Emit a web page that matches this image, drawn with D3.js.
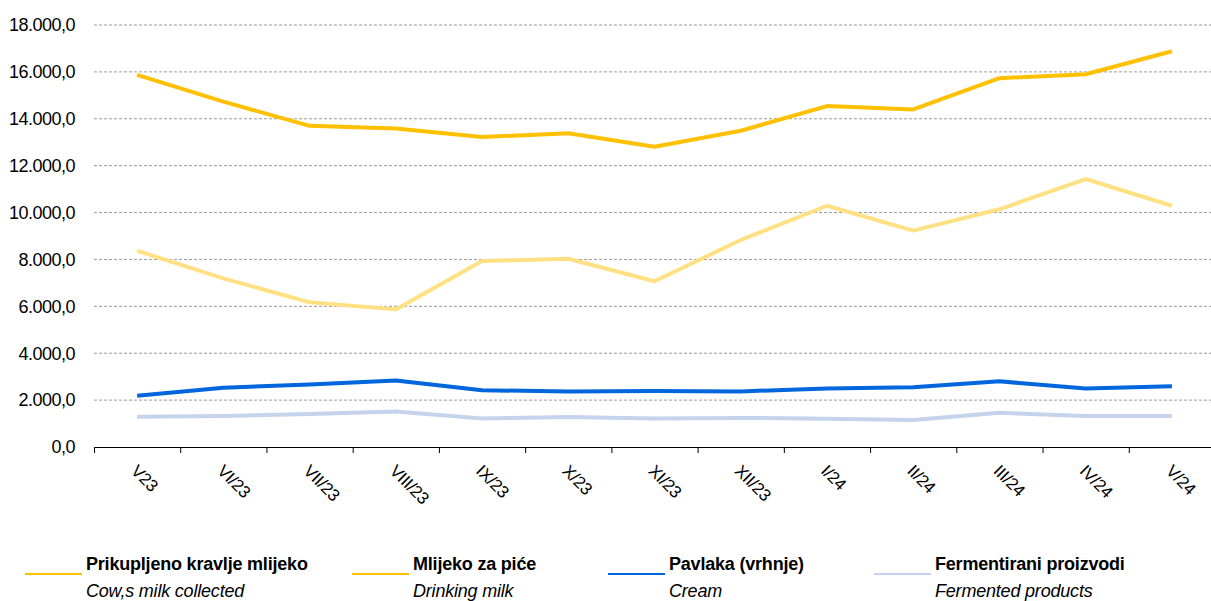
<!DOCTYPE html>
<html>
<head>
<meta charset="utf-8">
<script src="https://cdn.jsdelivr.net/npm/d3@7"></script>
<style>
    body { margin: 0; background: #fff; }
    svg text { font-family: "Liberation Sans", Arial, sans-serif; fill: #000; }
</style>
</head>
<body>
<div id="chart-container"></div>
<script>
var months = ["V/23", "VI/23", "VII/23", "VIII/23", "IX/23", "X/23", "XI/23", "XII/23", "I/24", "II/24", "III/24", "IV/24", "V/24"];
var monthLabels = ["V23", "VI/23", "VII/23", "VIII/23", "IX/23", "X/23", "XI/23", "XII/23", "I/24", "II/24", "III/24", "IV/24", "V/24"];

var cowMilk = [15870, 14730, 13700, 13590, 13220, 13380, 12810, 13490, 14540, 14400, 15730, 15900, 16880];
var drinkingMilk = [8370, 7190, 6170, 5870, 7930, 8030, 7070, 8830, 10290, 9230, 10140, 11430, 10290];
var cream = [2190, 2530, 2670, 2840, 2420, 2370, 2390, 2370, 2500, 2550, 2800, 2500, 2590];
var fermented = [1290, 1320, 1410, 1510, 1220, 1280, 1220, 1240, 1210, 1150, 1460, 1320, 1320];

var yTicks = [0, 2000, 4000, 6000, 8000, 10000, 12000, 14000, 16000, 18000];

var seriesNames = ["Prikupljeno kravlje mlijeko", "Mlijeko za piće", "Pavlaka (vrhnje)", "Fermentirani proizvodi"];
var seriesNamesEn = ["Cow,s milk collected", "Drinking milk", "Cream", "Fermented products"];

var settings = {
    w: 1211,
    h: 601,
    left: 94,
    right: 1215,
    top: 25,
    bottom: 447,
    lineColors: ["#FFC000", "#FFE184", "#0066DD", "#C5D3EC"],
    legendColors: ["#FFC000", "#FFC000", "#0066DD", "#C5D3EC"],
    legendX: [25, 352, 608, 874]
};

var seriesData = [cowMilk, drinkingMilk, cream, fermented];

var svg = d3.select("#chart-container").append("svg")
    .attr("width", settings.w)
    .attr("height", settings.h);

var xScale = d3.scaleBand()
    .domain(months)
    .range([settings.left, settings.right]);

var yScale = d3.scaleLinear()
    .domain([0, 18000])
    .range([settings.bottom, settings.top]);

var fmt = function(v) {
    // 18.000,0 style
    var s = d3.format(",.1f")(v);
    return s.replace(/,/g, "#").replace(".", ",").replace(/#/g, ".");
};

// gridlines
svg.append("g")
    .selectAll("line")
    .data(yTicks.filter(function(d){ return d > 0; }))
    .enter()
    .append("line")
    .attr("x1", settings.left)
    .attr("x2", settings.w)
    .attr("y1", function(d){ return yScale(d); })
    .attr("y2", function(d){ return yScale(d); })
    .attr("stroke", "#9a9a9a")
    .attr("stroke-width", 1)
    .attr("stroke-dasharray", "3,2");

// y labels
svg.append("g")
    .selectAll("text")
    .data(yTicks)
    .enter()
    .append("text")
    .attr("x", 75)
    .attr("y", function(d){ return yScale(d); })
    .attr("dy", "0.35em")
    .attr("text-anchor", "end")
    .style("font-size", "18px")
    .style("letter-spacing", "-0.5px")
    .text(fmt);

// x axis
var xAxis = d3.axisBottom(xScale).tickSize(6).tickFormat("");
var xAxisDom = svg.append("g")
    .attr("class", "x-axis")
    .attr("transform", "translate(0," + settings.bottom + ")")
    .call(xAxis);
xAxisDom.select(".domain").remove();
xAxisDom.selectAll(".tick").attr("transform", function(d){ return "translate(" + (xScale(d) + 0.5) + ",0)"; });
xAxisDom.selectAll(".tick line").attr("stroke", "#000");
xAxisDom.append("line")
    .attr("x1", settings.left)
    .attr("x2", settings.w)
    .attr("y1", 0.5)
    .attr("y2", 0.5)
    .attr("stroke", "#000")
    .attr("stroke-width", 1);

svg.append("g")
    .selectAll("text")
    .data(months)
    .enter()
    .append("text")
    .attr("transform", function(d){
        var cx = xScale(d) + xScale.bandwidth() / 2 - 7;
        return "translate(" + cx + ",472) rotate(45)";
    })
    .attr("text-anchor", "start")
    .style("font-size", "17px")
    .style("letter-spacing", "-0.3px")
    .text(function(d, i){ return monthLabels[i]; });

// lines
var line = d3.line()
    .x(function(d, i){ return xScale(months[i]) + xScale.bandwidth() / 2; })
    .y(function(d){ return yScale(d); });

svg.append("g")
    .selectAll("path")
    .data(seriesData.slice().reverse())
    .enter()
    .append("path")
    .attr("d", line)
    .attr("fill", "none")
    .attr("stroke", function(d, i){ return settings.lineColors[3 - i]; })
    .attr("stroke-width", 4)
    .attr("stroke-linejoin", "round");

// legend
var legend = svg.append("g")
    .selectAll("g")
    .data(seriesNames)
    .enter()
    .append("g")
    .attr("transform", function(d, i){ return "translate(" + settings.legendX[i] + ",0)"; });

legend.append("line")
    .attr("x1", 0)
    .attr("x2", 57)
    .attr("y1", 574)
    .attr("y2", 574)
    .attr("stroke", function(d, i){ return settings.legendColors[i]; })
    .attr("stroke-width", 2);

legend.append("text")
    .attr("x", 61)
    .attr("y", 570)
    .style("font-size", "18px")
    .style("font-weight", "bold")
    .style("letter-spacing", "-0.2px")
    .text(function(d){ return d; });

legend.append("text")
    .attr("x", 61)
    .attr("y", 597)
    .style("font-size", "18px")
    .style("font-style", "italic")
    .style("letter-spacing", "-0.2px")
    .text(function(d, i){ return seriesNamesEn[i]; });
</script>
</body>
</html>
